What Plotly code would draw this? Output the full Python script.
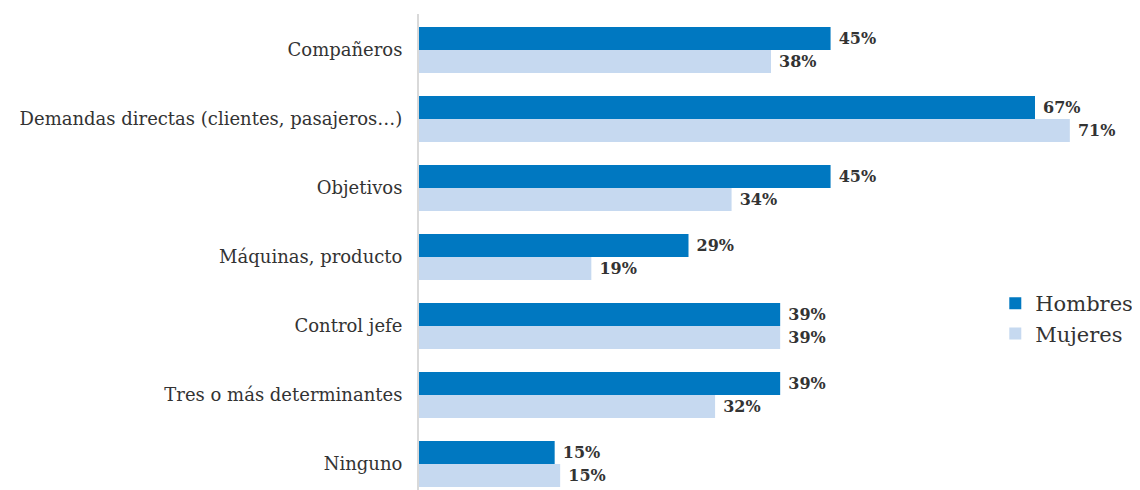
import plotly.graph_objects as go

categories = ["Compañeros", "Demandas directas (clientes, pasajeros…)", "Objetivos",
              "Máquinas, producto", "Control jefe", "Tres o más determinantes", "Ninguno"]
hombres = [44.9, 67.2, 44.9, 29.4, 39.4, 39.4, 14.8]
mujeres = [38.4, 71.0, 34.1, 18.8, 39.4, 32.3, 15.4]

FONT = "DejaVu Serif, Liberation Serif, serif"

fig = go.Figure()
for name, vals, col in [("Hombres", hombres, "#0078c1"), ("Mujeres", mujeres, "#c6d9f0")]:
    fig.add_trace(go.Bar(y=categories, x=vals, name=name, orientation="h",
                         marker=dict(color=col, line=dict(width=0)),
                         texttemplate=" <b>%{x:.0f}%</b>", textposition="outside",
                         textfont=dict(family=FONT, size=16, color="#333333"),
                         cliponaxis=False))

fig.update_layout(
    width=1132, height=482,
    margin=dict(l=411, r=6, t=6, b=0),
    barmode="group", bargap=0.333, bargroupgap=0,
    plot_bgcolor="white", paper_bgcolor="white",
    font=dict(family=FONT, color="#333333"),
    xaxis=dict(range=[0, 78], visible=False, automargin=False),
    yaxis=dict(range=[6.378, -0.522], showline=True, linecolor="#d9d9d9", linewidth=2,
               ticks="", showgrid=False, ticklabelstandoff=11, automargin=False,
               tickfont=dict(family=FONT, size=18, color="#333333")),
    legend=dict(x=0.806, y=0.36, xanchor="left", yanchor="middle",
                font=dict(family=FONT, size=21, color="#333333"),
                bgcolor="rgba(0,0,0,0)", traceorder="normal", itemwidth=30),
    showlegend=True,
)
fig.write_html("out.html")
